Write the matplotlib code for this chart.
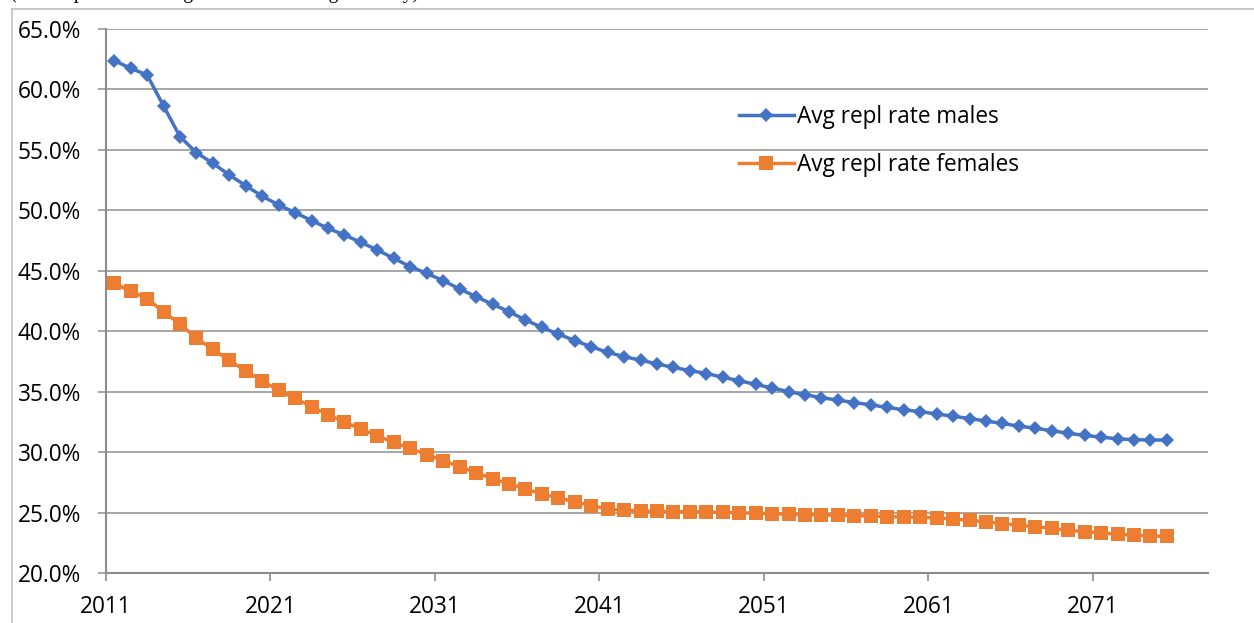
import matplotlib.pyplot as plt
from matplotlib.lines import Line2D
from matplotlib.ticker import FuncFormatter

# Projection years (one category per year) and average replacement rates in %
years = list(range(2011, 2076))

males = [62.38, 61.75, 61.2, 58.63, 56.09, 54.77, 53.89, 52.92, 52.04, 51.17,
         50.44, 49.81, 49.15, 48.51, 47.96, 47.35, 46.72, 46.03, 45.34, 44.79,
         44.18, 43.5, 42.86, 42.23, 41.62, 40.93, 40.32, 39.77, 39.22, 38.72,
         38.25, 37.9, 37.6, 37.3, 37.0, 36.75, 36.5, 36.2, 35.9, 35.6,
         35.3, 35.0, 34.75, 34.5, 34.3, 34.1, 33.9, 33.7, 33.5, 33.35,
         33.15, 32.97, 32.78, 32.57, 32.37, 32.15, 31.97, 31.77, 31.56, 31.38,
         31.24, 31.1, 31.03, 31.0, 31.0]

females = [43.97, 43.3, 42.7, 41.6, 40.6, 39.4, 38.5, 37.6, 36.7, 35.9,
           35.1, 34.45, 33.75, 33.1, 32.5, 31.9, 31.35, 30.8, 30.3, 29.8,
           29.3, 28.8, 28.3, 27.8, 27.4, 26.95, 26.55, 26.2, 25.9, 25.57,
           25.3, 25.19, 25.13, 25.1, 25.08, 25.08, 25.05, 25.02, 24.99, 24.94,
           24.91, 24.85, 24.83, 24.8, 24.77, 24.74, 24.72, 24.66, 24.64, 24.61,
           24.55, 24.48, 24.36, 24.23, 24.09, 23.95, 23.83, 23.7, 23.54, 23.42,
           23.32, 23.21, 23.13, 23.07, 23.03]

n_categories = 67
label_step = 10

plt.rcParams['font.family'] = ['Open Sans', 'DejaVu Sans']

fig = plt.figure(figsize=(12.54, 6.23), dpi=100)
ax = fig.add_axes([106 / 1254, 50 / 623, 1102 / 1254, 544 / 623])

# points sit in the middle of each category slot
x = [i + 0.5 for i in range(len(years))]
ax.plot(x, males, color='#4472C4', lw=2.5, marker='D', ms=7.0, mew=0,
        label='Avg repl rate males', zorder=3)
ax.plot(x, females, color='#ED7D31', lw=2.5, marker='s', ms=9.8, mew=0,
        label='Avg repl rate females', zorder=3)

ax.set_xlim(0, n_categories)
ax.set_ylim(20, 65)
ax.set_yticks(range(20, 66, 5))
ax.yaxis.set_major_formatter(FuncFormatter(lambda v, p: f'{v:.1f}%'))
ax.set_xticks(range(0, len(years), label_step))
ax.set_xticklabels([str(y) for y in years[::label_step]])

grid_col = '#A6A6A6'
ax.grid(axis='y', color=grid_col, lw=1.4)
ax.set_axisbelow(True)
for side in ['top', 'right']:
    ax.spines[side].set_visible(False)
for side in ['left', 'bottom']:
    ax.spines[side].set_color('#8C8C8C')
    ax.spines[side].set_linewidth(1.5)

fs = 16.3
ax.tick_params(axis='y', direction='out', length=6, width=1.4, color=grid_col,
               labelsize=fs, pad=12)
ax.tick_params(axis='x', direction='out', length=6, width=1.2, color='#8C8C8C',
               labelsize=fs, pad=10)

leg = ax.legend(loc='upper left', bbox_to_anchor=(0.574, 0.86), frameon=False,
                fontsize=fs, handlelength=2.45, handletextpad=0.15,
                labelspacing=1.05, borderpad=0, borderaxespad=0)

# chart area border and the heading line cut off above it
fig.add_artist(Line2D([12 / 1254, 12 / 1254], [0, 1 - 9 / 623],
                      color='#BFBFBF', lw=1.2, transform=fig.transFigure))
fig.add_artist(Line2D([12 / 1254, 1], [1 - 9 / 623, 1 - 9 / 623],
                      color='#BFBFBF', lw=1.2, transform=fig.transFigure))
fig.text(10 / 1254, 1.0 + 2 / 623, '(Model pension for a given retirement age at entry)',
         family='Liberation Serif', fontsize=14.4, va='baseline', ha='left')

fig.savefig('out.png', dpi=100)
